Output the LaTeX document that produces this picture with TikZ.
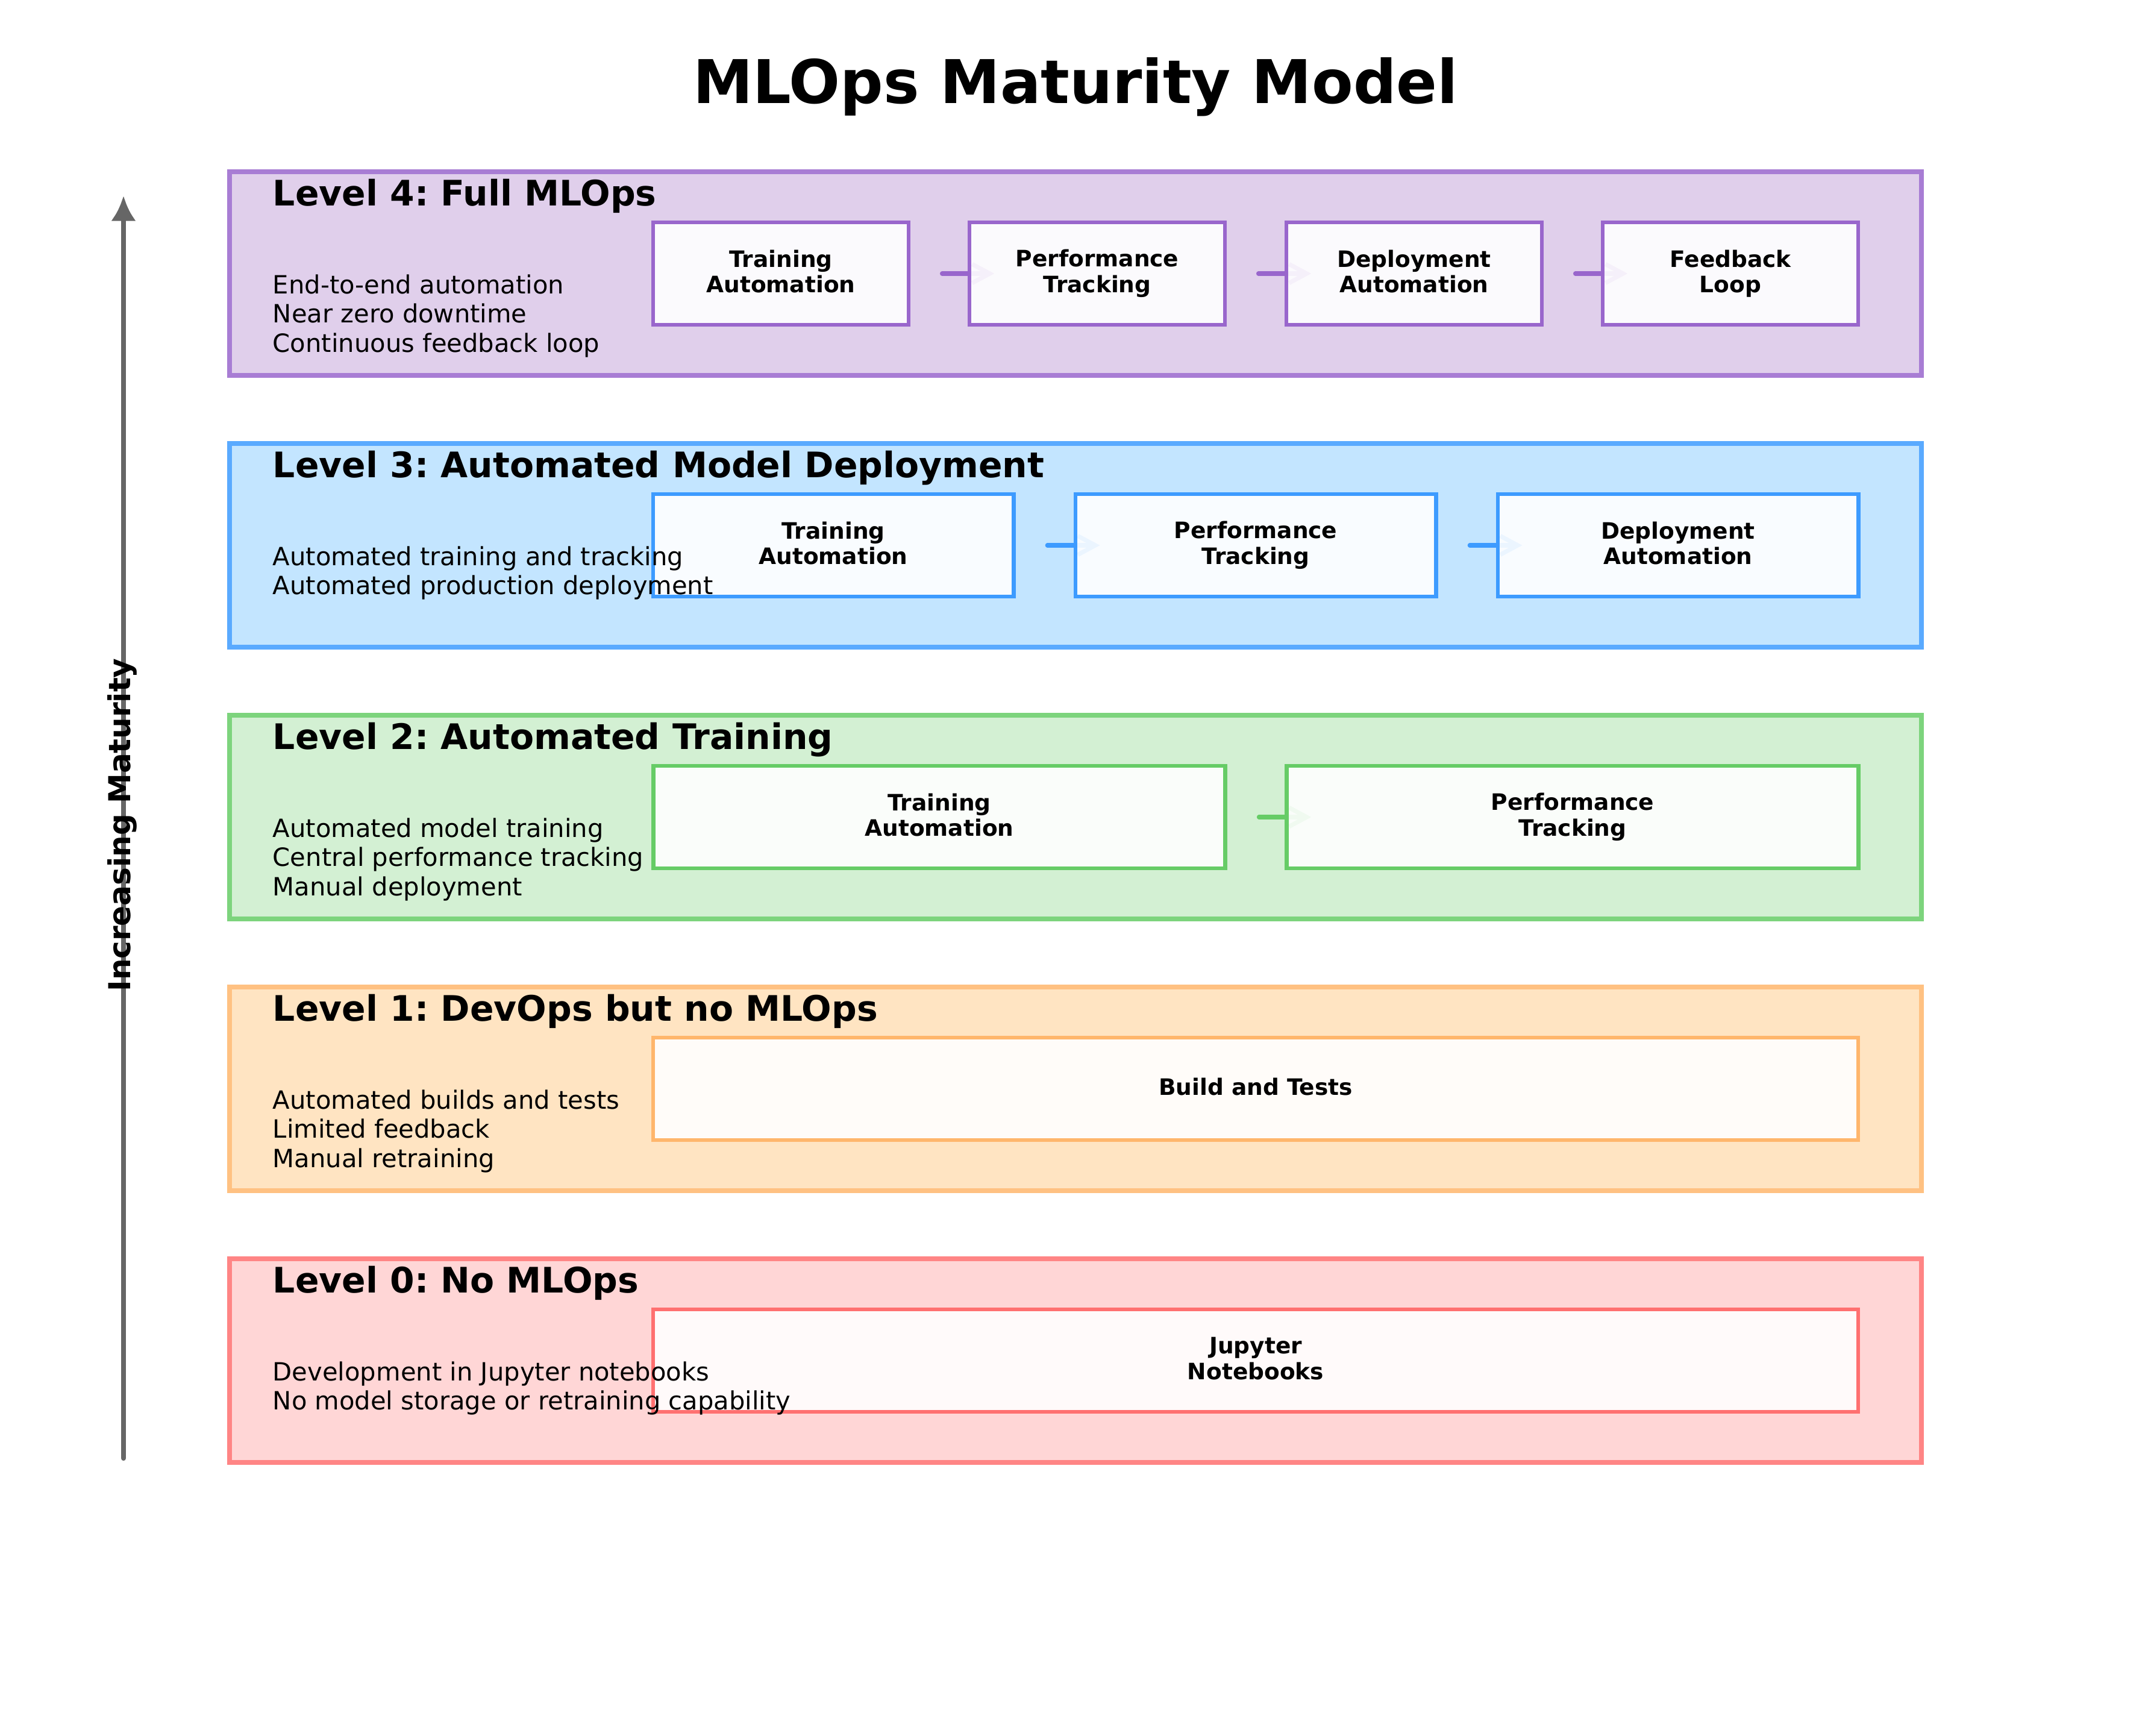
\documentclass[tikz,border=0pt]{standalone}
\usepackage{fontspec}
\setmainfont{DejaVu Sans}
\usetikzlibrary{arrows.meta,calc}
\frenchspacing

\pgfdeclarelayer{back}
\pgfdeclarelayer{flow}
\pgfsetlayers{back,flow,main}

\definecolor{purplebase}{HTML}{9966CC}
\definecolor{purplefill}{HTML}{E0CFEB}
\definecolor{bluebase}{HTML}{3D9BFF}
\definecolor{bluefill}{HTML}{C3E5FF}
\definecolor{greenbase}{HTML}{66CC66}
\definecolor{greenfill}{HTML}{D3F0D3}
\definecolor{orangebase}{HTML}{FFB66C}
\definecolor{orangefill}{HTML}{FFE4C2}
\definecolor{redbase}{HTML}{FF7070}
\definecolor{redfill}{HTML}{FFD6D6}
\definecolor{axisgray}{HTML}{666666}

\tikzset{
  levelbox/.style={draw=#1base!85!white, fill=#1fill, line width=2pt,
    inner sep=0pt, outer sep=0pt, minimum width=673.9pt, minimum height=81.1pt},
  stagebox/.style={draw=#1base, fill=white, fill opacity=0.9, text opacity=1,
    line width=1.5pt, inner sep=0pt, outer sep=0pt, minimum height=40.8pt,
    align=center, font=\fontsize{9}{10.2}\selectfont\bfseries,
    execute at begin node={\vphantom{Tl}}, execute at end node={\vphantom{p}}},
  leveltitle/.style={anchor=base west, inner sep=0pt,
    font=\fontsize{14}{17}\selectfont\bfseries},
  leveltext/.style={anchor=base west, inner sep=0pt, align=left,
    font=\fontsize{10}{11.64}\selectfont},
  flow/.style={draw=#1base, line width=1.7pt, line cap=round,
    -{Straight Barb[length=7pt,width=7.5pt]}},
}

\begin{document}
\begin{tikzpicture}[x=24pt,y=-24pt]
  \useasboundingbox (0,0) rectangle (35.70,28.80);

  % title and maturity axis
  \node[font=\fontsize{24}{29}\selectfont\bfseries, anchor=base] (title) at (17.85,1.71) {MLOps Maturity Model};
  \coordinate (matlow) at (2.05,24.20);
  \coordinate (mathigh) at (2.05,3.25);
  \draw[draw=axisgray, line width=2pt, line cap=round, -{Latex[length=10pt,width=10pt]}] (matlow) -- (mathigh);
  \node[rotate=90, inner sep=0pt, font=\fontsize{12}{14}\selectfont\bfseries] (matlabel) at (2.03,13.69) {Increasing Maturity};

  % level 4
  \begin{pgfonlayer}{back}
    \node[levelbox=purple] (lv4) at (17.85,4.54) {};
  \end{pgfonlayer}
  \node[leveltitle] (lv4title) at ($(lv4.north west)+(0.71,0.56)$) {Level 4: Full MLOps};
  \node[stagebox=purple, minimum width=101.6pt] (lv4a) at (12.96,4.54) {Training\\Automation};
  \node[stagebox=purple, minimum width=101.6pt] (lv4b) at (18.21,4.54) {Performance\\Tracking};
  \node[stagebox=purple, minimum width=101.6pt] (lv4c) at (23.47,4.54) {Deployment\\Automation};
  \node[stagebox=purple, minimum width=101.6pt] (lv4d) at (28.72,4.54) {Feedback\\Loop};
  \begin{pgfonlayer}{flow}
    \draw[flow=purple] ([xshift=13.4pt]lv4a.east) -- ([xshift=9.8pt]lv4b.west);
    \draw[flow=purple] ([xshift=13.4pt]lv4b.east) -- ([xshift=9.8pt]lv4c.west);
    \draw[flow=purple] ([xshift=13.4pt]lv4c.east) -- ([xshift=9.8pt]lv4d.west);
  \end{pgfonlayer}
  \node[leveltext] (lv4text) at ($(lv4.north west)+(0.71,2.99)$) {End-to-end automation\\Near zero downtime\\Continuous feedback loop};

  % level 3
  \begin{pgfonlayer}{back}
    \node[levelbox=blue] (lv3) at (17.85,9.05) {};
  \end{pgfonlayer}
  \node[leveltitle] (lv3title) at ($(lv3.north west)+(0.71,0.56)$) {Level 3: Automated Model Deployment};
  \node[stagebox=blue, minimum width=143.7pt] (lv3a) at (13.83,9.05) {Training\\Automation};
  \node[stagebox=blue, minimum width=143.7pt] (lv3b) at (20.84,9.05) {Performance\\Tracking};
  \node[stagebox=blue, minimum width=143.7pt] (lv3c) at (27.85,9.05) {Deployment\\Automation};
  \begin{pgfonlayer}{flow}
    \draw[flow=blue] ([xshift=13.4pt]lv3a.east) -- ([xshift=9.8pt]lv3b.west);
    \draw[flow=blue] ([xshift=13.4pt]lv3b.east) -- ([xshift=9.8pt]lv3c.west);
  \end{pgfonlayer}
  \node[leveltext] (lv3text) at ($(lv3.north west)+(0.71,2.505)$) {Automated training and tracking\\Automated production deployment};

  % level 2
  \begin{pgfonlayer}{back}
    \node[levelbox=green] (lv2) at (17.85,13.56) {};
  \end{pgfonlayer}
  \node[leveltitle] (lv2title) at ($(lv2.north west)+(0.71,0.56)$) {Level 2: Automated Training};
  \node[stagebox=green, minimum width=227.8pt] (lv2a) at (15.59,13.56) {Training\\Automation};
  \node[stagebox=green, minimum width=227.8pt] (lv2b) at (26.10,13.56) {Performance\\Tracking};
  \begin{pgfonlayer}{flow}
    \draw[flow=green] ([xshift=13.4pt]lv2a.east) -- ([xshift=9.8pt]lv2b.west);
  \end{pgfonlayer}
  \node[leveltext] (lv2text) at ($(lv2.north west)+(0.71,2.99)$) {Automated model training\\Central performance tracking\\Manual deployment};

  % level 1
  \begin{pgfonlayer}{back}
    \node[levelbox=orange] (lv1) at (17.85,18.07) {};
  \end{pgfonlayer}
  \node[leveltitle] (lv1title) at ($(lv1.north west)+(0.71,0.56)$) {Level 1: DevOps but no MLOps};
  \node[stagebox=orange, minimum width=480pt] (lv1a) at (20.84,18.07) {Build and Tests};
  \node[leveltext] (lv1text) at ($(lv1.north west)+(0.71,2.99)$) {Automated builds and tests\\Limited feedback\\Manual retraining};

  % level 0
  \begin{pgfonlayer}{back}
    \node[levelbox=red] (lv0) at (17.85,22.58) {};
  \end{pgfonlayer}
  \node[leveltitle] (lv0title) at ($(lv0.north west)+(0.71,0.56)$) {Level 0: No MLOps};
  \node[stagebox=red, minimum width=480pt] (lv0a) at (20.84,22.58) {Jupyter\\Notebooks};
  \node[leveltext] (lv0text) at ($(lv0.north west)+(0.71,2.505)$) {Development in Jupyter notebooks\\No model storage or retraining capability};
\end{tikzpicture}
\end{document}
